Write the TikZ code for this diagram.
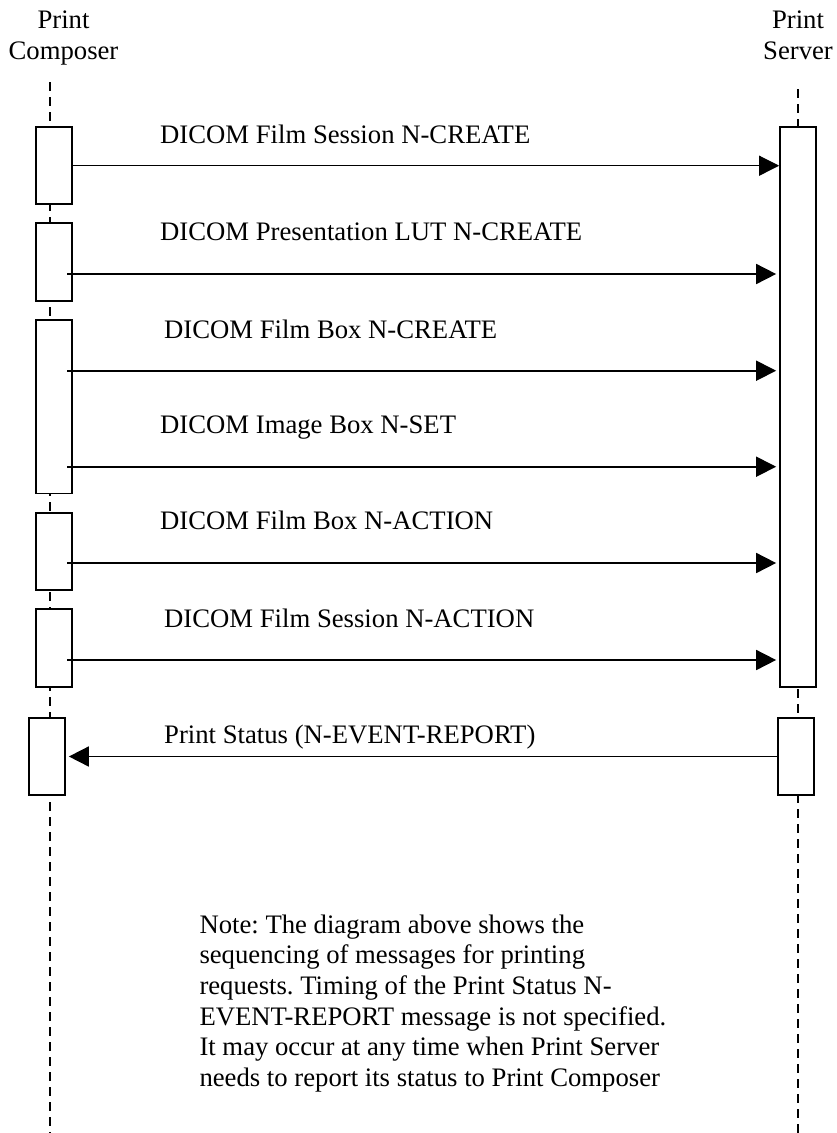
\documentclass[tikz,border=0pt]{standalone}
\usepackage{fontspec}
\setmainfont{Liberation Serif}
\usepackage{tikz}
\usetikzlibrary{arrows.meta}
\frenchspacing

\begin{document}
\begin{tikzpicture}[
  x=1pt, y=-1pt,
  every node/.style={font=\fontsize{26.7}{30.6}\selectfont, inner sep=0pt},
  head/.style={align=center, anchor=north},
  act/.style={draw, fill=white, line width=1.7pt, minimum width=36pt},
  lbl/.style={anchor=base west},
  life/.style={dash pattern=on 9pt off 6pt, line width=1.1pt},
  msg/.style={-{Triangle[length=20pt, width=20pt]}, line width=1.7pt}
]
\useasboundingbox (0,0) rectangle (837,1133);

% participants
\node[head] (pc) at (63.5,11) {Print\\Composer};
\node[head] (ps) at (798,11) {Print\\Server};

% lifelines
\coordinate (pcTop) at (50,82);
\coordinate (pcEnd) at (50,1133);
\coordinate (psTop) at (798,89);
\coordinate (psEnd) at (798,1133);
\draw[life] (pcTop) -- (pcEnd);
\draw[life] (psTop) -- (psEnd);

% activation boxes
\node[act, minimum height=77.6pt] (c1) at (53.7,165.5) {};
\node[act, minimum height=77.4pt] (c2) at (53.7,262) {};
\node[act, minimum height=173.3pt] (c3) at (53.7,406.7) {};
\node[act, minimum height=77.3pt] (c4) at (53.7,551.3) {};
\node[act, minimum height=77.7pt] (c5) at (53.7,647.8) {};
\node[act, minimum height=77pt] (c6) at (47,756.5) {};
\node[act, minimum height=560pt] (s1) at (798,407) {};
\node[act, minimum height=77pt] (s2) at (796,756.5) {};

% messages
\coordinate (m1) at (71,165.7);
\coordinate (m2) at (67,274);
\coordinate (m3) at (67,370.7);
\coordinate (m4) at (67,466.7);
\coordinate (m5) at (67,563);
\coordinate (m6) at (67,660);
\draw[msg, line width=1.1pt] (m1) -- (m1 -| s1.west);
\draw[msg, shorten >=3pt] (m2) -- (m2 -| s1.west);
\draw[msg, shorten >=3pt] (m3) -- (m3 -| s1.west);
\draw[msg, shorten >=3pt] (m4) -- (m4 -| s1.west);
\draw[msg, shorten >=3pt] (m5) -- (m5 -| s1.west);
\draw[msg, shorten >=3pt] (m6) -- (m6 -| s1.west);
\draw[msg, shorten >=3pt] (s2.west) -- (c6.east);

\node[lbl] (l1) at (160,143.3) {DICOM Film Session N-CREATE};
\node[lbl] (l2) at (160,240) {DICOM Presentation LUT N-CREATE};
\node[lbl] (l3) at (164,338.3) {DICOM Film Box N-CREATE};
\node[lbl] (l4) at (160,433.3) {DICOM Image Box N-SET};
\node[lbl] (l5) at (160,529.3) {DICOM Film Box N-ACTION};
\node[lbl] (l6) at (164,627) {DICOM Film Session N-ACTION};
\node[lbl] (l7) at (164,743.3) {Print Status (N-EVENT-REPORT)};

% note
\node[align=left, anchor=north west] (note) at (199.3,914.5)
  {Note: The diagram above shows the\\
   sequencing of messages for printing\\
   requests. Timing of the Print Status N-\\
   EVENT-REPORT message is not specified.\\
   It may occur at any time when Print Server\\
   needs to report its status to Print Composer};
\end{tikzpicture}
\end{document}
